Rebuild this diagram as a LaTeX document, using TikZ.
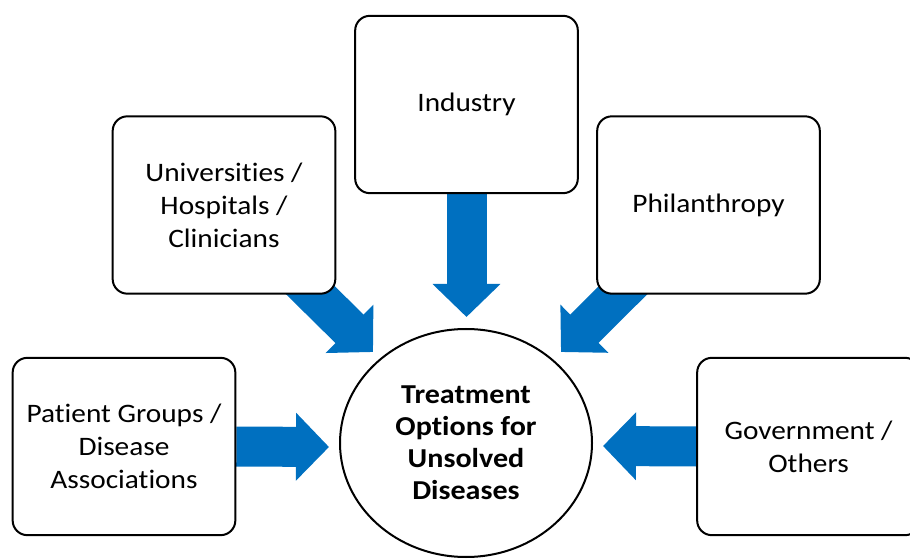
\documentclass[tikz,border=0pt]{standalone}
\usepackage{fontspec}
\setmainfont{Carlito}[FakeStretch=1.1, Ligatures=NoCommon]
\usetikzlibrary{shapes.geometric,arrows.meta}
\definecolor{arrowblue}{HTML}{0070C0}
\pgfdeclarelayer{bg}
\pgfsetlayers{bg,main}
\begin{document}
\begin{tikzpicture}[x=0.75pt,y=-0.75pt,
  box/.style={draw, line width=1.5pt, rounded corners=11pt, fill=white,
    minimum width=167pt, minimum height=133pt, align=center,
    font=\fontsize{20}{24.75}\selectfont},
  hub/.style={ellipse, draw, line width=1.5pt, fill=white,
    minimum width=189pt, minimum height=171pt, align=center,
    font=\fontsize{20.5}{24}\selectfont\bfseries},
  bigarrow/.style={arrowblue, line width=30pt,
    -{Triangle[length=24.75pt,width=49.5pt]}}]
\clip (0,0) rectangle (910,559);
\node[box] (ind) at (466.5,104.5) {Industry};
\node[box] (uni) at (224,205) {Universities /\\ Hospitals /\\ Clinicians};
\node[box] (phi) at (708.5,205) {Philanthropy};
\node[box] (pat) at (124,446.5) {Patient Groups /\\ Disease\\ Associations};
\node[box] (gov) at (808.5,446.5) {Government /\\ Others};
\node[hub] (hub) at (466,443) {Treatment\\ Options for\\ Unsolved\\ Diseases};
\coordinate (tI) at (466.5,317);
\coordinate (tP) at (329,447);
\coordinate (tG) at (603,446);
\coordinate (tU) at (373,352);
\coordinate (tH) at (561,352);
\begin{pgfonlayer}{bg}
\draw[bigarrow] (ind.south) -- (tI);
\draw[bigarrow] (pat.east) -- (tP);
\draw[bigarrow] (gov.west) -- (tG);
\draw[bigarrow] (uni.center) -- (tU);
\draw[bigarrow] (phi.center) -- (tH);
\end{pgfonlayer}
\end{tikzpicture}
\end{document}
